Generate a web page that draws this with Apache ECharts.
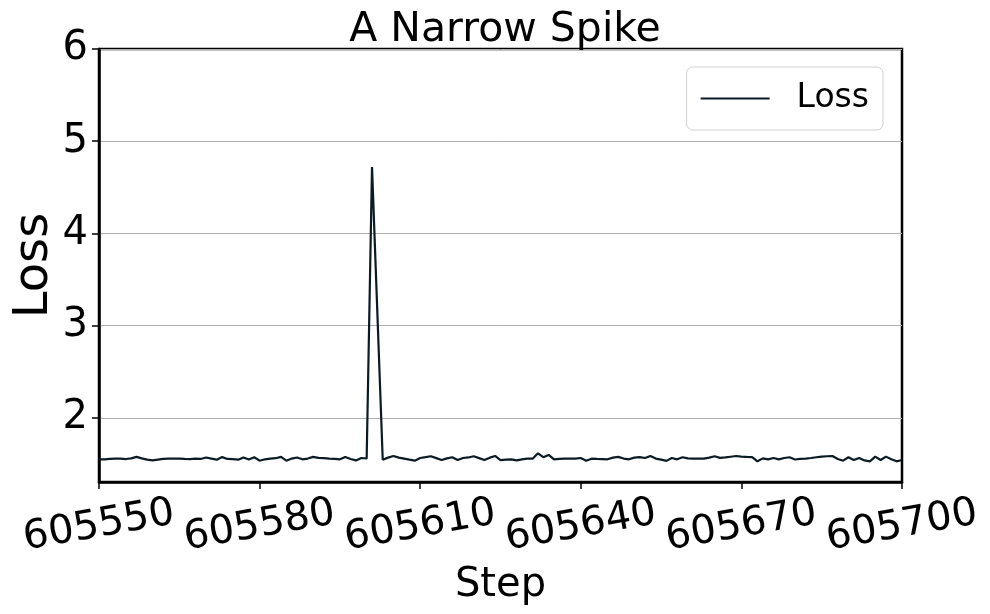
<!DOCTYPE html>
<html>
<head>
<meta charset="utf-8">
<title>A Narrow Spike</title>
<script src="https://cdn.jsdelivr.net/npm/echarts@6/dist/echarts.min.js"></script>
<style>
  html, body { margin: 0; padding: 0; background: #fff; }
  #chart { width: 990px; height: 614px; }
</style>
</head>
<body>
<div id="chart"></div>
<script>
  // 数据：训练步数和对应 loss
  var steps = [];
  for (var s = 605550; s <= 605700; s++) {
    if (s !== 605602) steps.push(s);
  }
  var loss = [
    1.552, 1.552, 1.556, 1.559, 1.559, 1.555, 1.562, 1.578, 1.562, 1.548,
    1.540, 1.548, 1.556, 1.559, 1.559, 1.559, 1.556, 1.555, 1.559, 1.556,
    1.572, 1.560, 1.548, 1.576, 1.556, 1.553, 1.548, 1.572, 1.550, 1.574,
    1.537, 1.552, 1.560, 1.564, 1.578, 1.537, 1.560, 1.572, 1.552, 1.560,
    1.578, 1.568, 1.564, 1.559, 1.556, 1.552, 1.578, 1.556, 1.540, 1.566,
    1.561, 4.720,
    1.548, 1.570, 1.588, 1.570, 1.560, 1.548, 1.537, 1.566, 1.575,
    1.585, 1.565, 1.544, 1.562, 1.574, 1.544, 1.566, 1.572, 1.585, 1.565,
    1.544, 1.570, 1.588, 1.544, 1.548, 1.552, 1.540, 1.552, 1.559, 1.559,
    1.617, 1.575, 1.599, 1.552, 1.556, 1.559, 1.559, 1.559, 1.566, 1.537,
    1.559, 1.556, 1.554, 1.552, 1.570, 1.578, 1.560, 1.552, 1.570, 1.576,
    1.566, 1.588, 1.560, 1.548, 1.535, 1.566, 1.552, 1.574, 1.562, 1.559,
    1.559, 1.559, 1.570, 1.585, 1.568, 1.572, 1.580, 1.588, 1.582, 1.578,
    1.576, 1.530, 1.562, 1.552, 1.566, 1.552, 1.566, 1.574, 1.550, 1.556,
    1.559, 1.566, 1.574, 1.581, 1.585, 1.588, 1.555, 1.537, 1.574, 1.544,
    1.566, 1.540, 1.530, 1.581, 1.544, 1.581, 1.552, 1.530, 1.544
  ];
  var xTicks = [605550, 605580, 605610, 605640, 605670, 605700];
  var yTicks = [2, 3, 4, 5, 6];

  var font = 'DejaVu Sans';
  var lineColor = '#0b1b24';

  var myChart = echarts.init(document.getElementById('chart'));
  var option = {
    animation: false,
    backgroundColor: '#fff',
    title: {
      text: 'A Narrow Spike',
      left: 500,
      textAlign: 'center',
      top: 5,
      textStyle: { fontFamily: font, fontSize: 41, fontWeight: 'normal', color: '#000' }
    },
    legend: {
      data: ['Loss'],
      icon: 'rect',
      right: 107,
      top: 67,
      padding: [15, 14, 15, 14],
      itemWidth: 69,
      itemHeight: 2,
      borderColor: '#d0d0d0',
      borderWidth: 1,
      borderRadius: 6,
      backgroundColor: '#fff',
      textStyle: { fontFamily: font, fontSize: 33, color: '#000', padding: [0, 0, 0, 22] }
    },
    grid: {
      left: 99, right: 88, top: 49, bottom: 132,
      outerBoundsMode: 'none',
      containLabel: false,
      show: true,
      borderColor: '#000',
      borderWidth: 2.5
    },
    xAxis: {
      type: 'value',
      min: 605550,
      max: 605700,
      interval: 30,
      name: 'Step',
      nameLocation: 'middle',
      nameGap: 84,
      nameTextStyle: { fontFamily: font, fontSize: 40, color: '#000' },
      axisLine: { show: true, lineStyle: { color: '#000', width: 2.5 } },
      axisTick: { show: true, length: 7, customValues: xTicks, lineStyle: { color: '#000', width: 1.5 } },
      axisLabel: {
        customValues: xTicks,
        formatter: function (v) { return String(v); },
        hideOverlap: false,
        rotate: 10,
        margin: 44,
        align: 'center',
        verticalAlign: 'middle',
        fontFamily: font,
        fontSize: 40,
        color: '#000',
        showMinLabel: true,
        showMaxLabel: true
      },
      splitLine: { show: false }
    },
    yAxis: {
      type: 'value',
      min: 1.306,
      max: 6,
      name: 'Loss',
      nameLocation: 'middle',
      nameGap: 40,
      nameMoveOverlap: false,
      nameTextStyle: { fontFamily: font, fontSize: 48, color: '#000' },
      axisLine: { show: true, lineStyle: { color: '#000', width: 2.5 } },
      axisTick: { show: true, length: 7, customValues: yTicks, lineStyle: { color: '#000', width: 1.5 } },
      axisLabel: {
        customValues: yTicks,
        margin: 11,
        fontFamily: font,
        fontSize: 40,
        color: '#000'
      },
      splitLine: { show: true, lineStyle: { color: '#b0b0b0', width: 1 } }
    },
    series: [
      {
        name: 'Loss',
        type: 'line',
        symbol: 'none',
        data: steps.map(function (x, i) { return [x, loss[i]]; }),
        lineStyle: { color: lineColor, width: 2.2 },
        itemStyle: { color: lineColor }
      }
    ]
  };
  myChart.setOption(option);
</script>
</body>
</html>
